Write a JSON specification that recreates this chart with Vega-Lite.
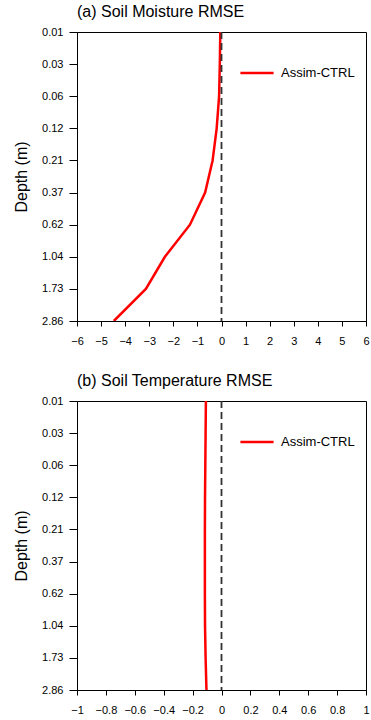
{
  "$schema": "https://vega.github.io/schema/vega-lite/v6.json",
  "padding": {"left": 13, "top": 3, "right": 5, "bottom": 2},
  "background": "white",
  "spacing": 25,
  "config": {
    "font": "Liberation Sans",
    "view": {"stroke": "#000", "strokeWidth": 1},
    "axis": {
      "grid": false,
      "domainColor": "#000",
      "tickColor": "#000",
      "labelColor": "#000",
      "titleColor": "#000",
      "labelFont": "Liberation Sans",
      "titleFont": "Liberation Sans",
      "labelFontSize": 11,
      "titleFontWeight": "normal"
    },
    "title": {"font": "Liberation Sans", "fontSize": 16, "fontWeight": "normal", "anchor": "start", "frame": "group", "color": "#000", "offset": 6},
    "legend": {"labelFont": "Liberation Sans"}
  },
  "datasets": {
    "sm": [
      {"depth": "0.01", "diff": -0.05, "series": "Assim-CTRL"},
      {"depth": "0.03", "diff": -0.07, "series": "Assim-CTRL"},
      {"depth": "0.06", "diff": -0.1, "series": "Assim-CTRL"},
      {"depth": "0.12", "diff": -0.2, "series": "Assim-CTRL"},
      {"depth": "0.21", "diff": -0.37, "series": "Assim-CTRL"},
      {"depth": "0.37", "diff": -0.68, "series": "Assim-CTRL"},
      {"depth": "0.62", "diff": -1.31, "series": "Assim-CTRL"},
      {"depth": "1.04", "diff": -2.35, "series": "Assim-CTRL"},
      {"depth": "1.73", "diff": -3.14, "series": "Assim-CTRL"},
      {"depth": "2.86", "diff": -4.47, "series": "Assim-CTRL"}
    ],
    "st": [
      {"depth": "0.01", "diff": -0.108, "series": "Assim-CTRL"},
      {"depth": "0.03", "diff": -0.11, "series": "Assim-CTRL"},
      {"depth": "0.06", "diff": -0.112, "series": "Assim-CTRL"},
      {"depth": "0.12", "diff": -0.114, "series": "Assim-CTRL"},
      {"depth": "0.21", "diff": -0.115, "series": "Assim-CTRL"},
      {"depth": "0.37", "diff": -0.115, "series": "Assim-CTRL"},
      {"depth": "0.62", "diff": -0.115, "series": "Assim-CTRL"},
      {"depth": "1.04", "diff": -0.114, "series": "Assim-CTRL"},
      {"depth": "1.73", "diff": -0.11, "series": "Assim-CTRL"},
      {"depth": "2.86", "diff": -0.104, "series": "Assim-CTRL"}
    ],
    "zero": [{"diff": 0}]
  },
  "vconcat": [
    {
      "title": {"text": "(a) Soil Moisture RMSE"},
      "width": 289,
      "height": 289,
      "encoding": {
        "x": {"field": "diff", "type": "quantitative",
              "scale": {"domain": [-6, 6], "nice": false, "zero": false},
              "axis": {"values": [-6,-5,-4,-3,-2,-1,0,1,2,3,4,5,6], "title": null, "tickSize": 5, "labelPadding": 9, "labelFlush": false, "labelOverlap": false}}
      },
      "layer": [
        {
          "data": {"name": "sm"},
          "mark": {"type": "line", "strokeWidth": 2.5, "clip": true},
          "encoding": {
            "y": {"field": "depth", "type": "ordinal",
                  "sort": ["0.01","0.03","0.06","0.12","0.21","0.37","0.62","1.04","1.73","2.86"],
                  "scale": {"type": "point", "padding": 0},
                  "axis": {"title": "Depth (m)", "titleFontSize": 16, "tickSize": 8, "labelPadding": 6, "titlePadding": 12}},
            "color": {"field": "series", "type": "nominal",
                      "scale": {"range": ["#ff0000"]},
                      "legend": {"title": null, "orient": "none", "legendX": 162, "legendY": 23, "symbolType": "stroke", "symbolSize": 1100, "symbolStrokeWidth": 2.5, "labelFontSize": 13, "labelOffset": 6}},
            "order": {"value": null}
          }
        },
        {
          "data": {"name": "zero"},
          "mark": {"type": "rule", "strokeDash": [7, 4], "strokeWidth": 1.8, "color": "#333"},
          "encoding": {}
        }
      ]
    },
    {
      "title": {"text": "(b) Soil Temperature RMSE"},
      "width": 289,
      "height": 289,
      "encoding": {
        "x": {"field": "diff", "type": "quantitative",
              "scale": {"domain": [-1, 1], "nice": false, "zero": false},
              "axis": {"values": [-1,-0.8,-0.6,-0.4,-0.2,0,0.2,0.4,0.6,0.8,1], "title": null, "tickSize": 5, "labelPadding": 9, "labelFlush": false, "labelOverlap": false, "labelExpr": "format(datum.value, '.1~f')"}}
      },
      "layer": [
        {
          "data": {"name": "st"},
          "mark": {"type": "line", "strokeWidth": 2.5, "clip": true},
          "encoding": {
            "y": {"field": "depth", "type": "ordinal",
                  "sort": ["0.01","0.03","0.06","0.12","0.21","0.37","0.62","1.04","1.73","2.86"],
                  "scale": {"type": "point", "padding": 0},
                  "axis": {"title": "Depth (m)", "titleFontSize": 16, "tickSize": 8, "labelPadding": 6, "titlePadding": 12}},
            "color": {"field": "series", "type": "nominal",
                      "scale": {"range": ["#ff0000"]},
                      "legend": {"title": null, "orient": "none", "legendX": 162, "legendY": 23, "symbolType": "stroke", "symbolSize": 1100, "symbolStrokeWidth": 2.5, "labelFontSize": 13, "labelOffset": 6}},
            "order": {"value": null}
          }
        },
        {
          "data": {"name": "zero"},
          "mark": {"type": "rule", "strokeDash": [7, 4], "strokeWidth": 1.8, "color": "#333"},
          "encoding": {}
        }
      ]
    }
  ],
  "resolve": {"scale": {"x": "independent", "color": "independent"}, "legend": {"color": "independent"}}
}
